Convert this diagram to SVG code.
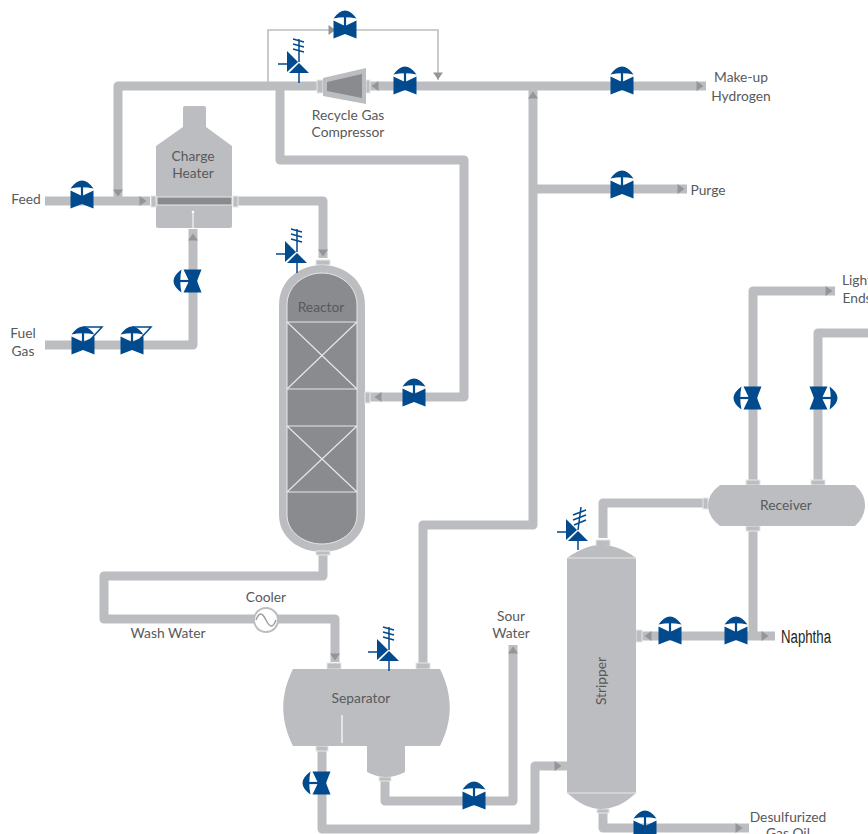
<svg xmlns="http://www.w3.org/2000/svg" xmlns:xlink="http://www.w3.org/1999/xlink" width="868" height="834" viewBox="0 0 868 834">
<style>
.pipe{fill:none;stroke:#bcbdc0;stroke-width:9;stroke-linejoin:round}
.thin{fill:none;stroke:#bcbdc0;stroke-width:1.6}
.body{fill:#bcbdc0}
.dark{fill:#8a8b8e}
.wl{fill:none;stroke:#e6e7e8;stroke-width:1.2}
.fl{fill:#bcbdc0;stroke:#e6e7e8;stroke-width:1}
.ar{fill:#939598}
.blue{fill:#004a8d}
.bl{fill:none;stroke:#004a8d;stroke-width:1.5}
text{font-family:"Lato","Open Sans","Liberation Sans",sans-serif;font-size:13.8px;fill:#58595b;text-anchor:middle}
</style>
<defs>
<g id="valve">
<path class="blue" d="M-11.5,-9.5 L0,-4 L11.5,-9.5 V8.5 L0,4 L-11.5,8.5Z"/>
<path class="blue" d="M-11.5,-11.5 Q0,-27.5 11.5,-11.5 Q0,-14 -11.5,-11.5Z"/>
<rect class="blue" x="-1.1" y="-13" width="2.2" height="10"/>
</g>
<g id="valveF">
<use href="#valve"/>
<path class="bl" d="M0,-19 H19 L8,-7" stroke-width="1.2"/>
</g>
<g id="inst">
<path class="blue" d="M-12,-11 L-1,0 L-12,10Z"/>
<path class="blue" d="M-10,11 L0,1 L10,11Z"/>
<path class="bl" d="M-21,2 H-12 M0,10 V21 M0,0 V-23 M-6,-23 L5,-20 M-6,-18 L5,-15 M-6,-13 L5,-10"/>
</g>
<g id="instM">
<path class="blue" d="M-12,-11 L-1,0 L-12,10Z"/>
<path class="blue" d="M-10,11 L0,1 L10,11Z"/>
<path class="bl" d="M-21,2 H-12 M0,10 V20 M0,0 L3,-23 M-5,-15 L8,-20 M-5,-10 L8,-15 M-4,-5 L8,-10"/>
</g>
<path id="arrow" class="ar" d="M-3.5,-5 L3.5,0 L-3.5,5Z"/>
</defs>

<g id="connectors">
<path class="thin" d="M268,86 V30 H438 V80"/>
<path class="pipe" d="M118,201 V86 H318"/>
<path class="pipe" d="M366,86 H706"/>
<path class="pipe" d="M280,86 V160 H464 V397 H368"/>
<path class="pipe" d="M45,201 H150"/>
<path class="pipe" d="M238,201 H323 V258"/>
<path class="pipe" d="M45,345 H193 V229"/>
<path class="pipe" d="M323,552 V576 H104 V619 H335 V662"/>
<path class="pipe" d="M423,663 V525 H533 V86"/>
<path class="pipe" d="M533,189 H687"/>
<path class="pipe" d="M385,779 V801 H513 V645"/>
<path class="pipe" d="M322,750 V829 H535 V766 H567"/>
<path class="pipe" d="M603,538 V503 H703"/>
<path class="pipe" d="M753,482 V291 H835"/>
<path class="pipe" d="M818,482 V333 H868"/>
<path class="pipe" d="M753,528 V636"/>
<path class="pipe" d="M642,636 H775"/>
<path class="pipe" d="M603,810 V828 H749"/>
<use href="#arrow" transform="translate(332,30)"/>
<use href="#arrow" transform="translate(438,76) rotate(90)"/>
<use href="#arrow" transform="translate(375,86) rotate(180)"/>
<use href="#arrow" transform="translate(118,193) rotate(90)"/>
<use href="#arrow" transform="translate(143,201)"/>
<use href="#arrow" transform="translate(323,253) rotate(90)"/>
<use href="#arrow" transform="translate(193,237) rotate(-90)"/>
<use href="#arrow" transform="translate(533,95) rotate(-90)"/>
<use href="#arrow" transform="translate(681,189)"/>
<use href="#arrow" transform="translate(700,86)"/>
<use href="#arrow" transform="translate(378,397) rotate(180)"/>
<use href="#arrow" transform="translate(335,657) rotate(90)"/>
<use href="#arrow" transform="translate(513,650) rotate(-90)"/>
<use href="#arrow" transform="translate(558,766)"/>
<use href="#arrow" transform="translate(829,291)"/>
<use href="#arrow" transform="translate(765,636)"/>
<use href="#arrow" transform="translate(648,636) rotate(180)"/>
<use href="#arrow" transform="translate(739,828)"/>
</g>

<g id="compressor">
<rect class="fl" x="317" y="80" width="6" height="13"/>
<rect class="fl" x="366" y="80" width="4" height="13"/>
<path class="body" d="M323,78 L366,68 V104 L323,96Z"/>
<path class="dark" d="M327,82 L362,74 V98 L327,91Z"/>
<text x="348" y="120">Recycle Gas</text>
<text x="348" y="137">Compressor</text>
</g>

<g id="charge-heater">
<path class="body" d="M183,108 Q183,106 185,106 H204 Q206,106 206,108 V127 L232,146 V226 Q232,228 230,228 H158 Q156,228 156,226 V146 L183,127Z"/>
<rect x="157" y="197" width="75" height="8" fill="#8a8b8e" stroke="#e6e7e8" stroke-width="1"/>
<rect class="fl" x="151" y="196" width="5" height="11"/>
<rect class="fl" x="233" y="196" width="5" height="11"/>
<path d="M193,228 V213" stroke="#fff" stroke-width="1"/>
<circle cx="193" cy="212" r="1.3" fill="#fff"/>
<text x="193" y="161">Charge</text>
<text x="193" y="178">Heater</text>
</g>

<g id="reactor">
<rect class="fl" x="316" y="260" width="14" height="5"/>
<path class="body" d="M279,305 C279,280 300,265 322,265 C344,265 365,280 365,305 V515 C365,538 344,552 322,552 C300,552 279,538 279,515Z"/>
<path class="dark" d="M287,305 C287,286 304,273 322,273 C340,273 357,286 357,305 V515 C357,532 340,544 322,544 C304,544 287,532 287,515Z" stroke="#e6e7e8" stroke-width="1"/>
<path class="wl" d="M287,322 H357 M287,389 H357 M287,322 L357,389 M357,322 L287,389 M287,426 H357 M287,492 H357 M287,426 L357,492 M357,426 L287,492"/>
<rect class="fl" x="316" y="551" width="14" height="4"/>
<rect class="fl" x="365" y="392" width="5" height="11"/>
<text x="321" y="312">Reactor</text>
</g>

<g id="cooler">
<circle cx="266" cy="620" r="12" fill="#fff" stroke="#bcbdc0" stroke-width="2"/>
<path d="M256,620 C259,612 262,612 266,620 C270,628 273,628 276,620" fill="none" stroke="#9a9b9e" stroke-width="1.4"/>
<text x="266" y="602">Cooler</text>
</g>

<g id="separator">
<rect class="fl" x="327" y="663" width="14" height="6"/>
<rect class="fl" x="416" y="663" width="14" height="6"/>
<rect class="fl" x="316" y="746" width="12" height="5"/>
<rect class="fl" x="379" y="777" width="12" height="4"/>
<path class="body" d="M293,669 H440 C453,695 453,720 440,746 H405 V772 Q386,782 367,772 V746 H293 C280,720 280,695 293,669Z"/>
<path d="M342,715 V743" stroke="#fff" stroke-width="1.2"/>
<text x="361" y="703">Separator</text>
</g>

<g id="stripper">
<rect class="fl" x="596" y="540" width="14" height="6"/>
<rect class="fl" x="597" y="809" width="12" height="4"/>
<rect class="fl" x="636" y="630" width="6" height="12"/>
<path class="body" d="M567,558 C580,549 590,545 601,545 C613,545 624,549 636,558 V793 C624,804 613,809 601,809 C590,809 580,804 567,793Z"/>
<path d="M567,558 H636 M567,793 H636" stroke="#e6e7e8" stroke-width="1"/>
<text transform="translate(606,681) rotate(-90)">Stripper</text>
</g>

<g id="receiver">
<rect class="fl" x="703" y="498" width="5" height="11"/>
<rect class="fl" x="746" y="480" width="14" height="5"/>
<rect class="fl" x="811" y="480" width="14" height="5"/>
<rect class="fl" x="746" y="526" width="14" height="5"/>
<path class="body" d="M720,485 H855 Q865,494 865,505 Q865,517 855,526 H720 Q708,517 708,505 Q708,494 720,485Z"/>
<text x="786" y="510">Receiver</text>
</g>

<g id="valves">
<use href="#valve" transform="translate(345,30)"/>
<use href="#valve" transform="translate(405,86)"/>
<use href="#valve" transform="translate(622,86)"/>
<use href="#valve" transform="translate(622,190)"/>
<use href="#valve" transform="translate(82,200)"/>
<use href="#valve" transform="translate(414,398)"/>
<use href="#valve" transform="translate(193,281) rotate(-90)"/>
<use href="#valveF" transform="translate(83,346)"/>
<use href="#valveF" transform="translate(132,346)"/>
<use href="#valve" transform="translate(322,783) rotate(-90)"/>
<use href="#valve" transform="translate(474,801)"/>
<use href="#valve" transform="translate(753,398) rotate(-90)"/>
<use href="#valve" transform="translate(818,398) rotate(90)"/>
<use href="#valve" transform="translate(670,636)"/>
<use href="#valve" transform="translate(736,636)"/>
<use href="#valve" transform="translate(645,830)"/>
</g>

<g id="instruments">
<use href="#inst" transform="translate(299,62)"/>
<use href="#inst" transform="translate(297,252)"/>
<use href="#inst" transform="translate(389,650)"/>
<use href="#instM" transform="translate(578,530)"/>
</g>

<g id="labels">
<text x="26" y="204">Feed</text>
<text x="23" y="338">Fuel</text>
<text x="23" y="356">Gas</text>
<text x="741" y="82">Make-up</text>
<text x="741" y="101">Hydrogen</text>
<text x="708" y="195">Purge</text>
<text x="857" y="285">Light</text>
<text x="857" y="303">Ends</text>
<text x="168" y="638">Wash Water</text>
<text x="511" y="621">Sour</text>
<text x="511" y="638">Water</text>
<text x="806" y="643" style="font-family:'Liberation Sans',sans-serif;font-size:18px;fill:#231f20" textLength="50" lengthAdjust="spacingAndGlyphs">Naphtha</text>
<text x="788" y="822">Desulfurized</text>
<text x="788" y="838">Gas Oil</text>
</g>
</svg>
